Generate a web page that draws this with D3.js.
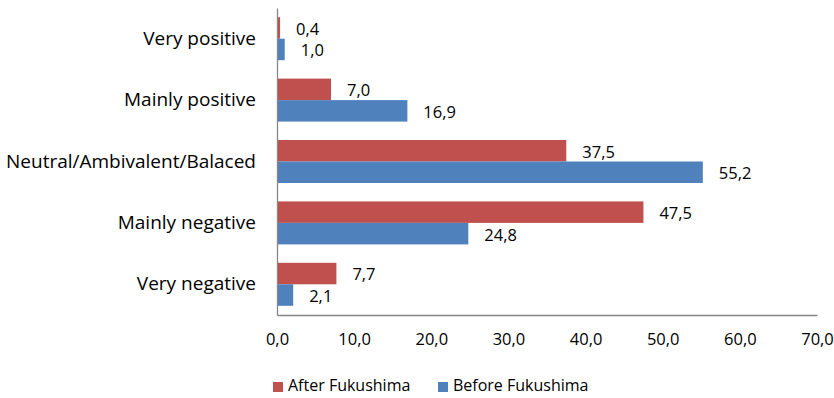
<!DOCTYPE html>
<html><head><meta charset="utf-8">
<script src="https://cdn.jsdelivr.net/npm/d3@7"></script>
<style>body{margin:0;background:#fff}svg{display:block}text{font-family:"Open Sans",sans-serif;fill:#000}</style>
</head><body><svg id="c" width="834" height="398"></svg>
<script>
const categories = ["Very positive","Mainly positive","Neutral/Ambivalent/Balaced","Mainly negative","Very negative"];
const seriesNames = ["After Fukushima","Before Fukushima"];
const afterValues = [0.4, 7.0, 37.5, 47.5, 7.7];
const beforeValues = [1.0, 16.9, 55.2, 24.8, 2.1];
const xTicks = [0,10,20,30,40,50,60,70];
const colors = ["#C0504D","#4F81BD"];

(function(){
const svg = d3.select("#c");
const pLeft = 277, pRight = 817, pTop = 8, pBottom = 315;
const fmt = v => v.toFixed(1).replace(".", ",");
const x = d3.scaleLinear().domain([0,70]).range([pLeft,pRight]);
const y = d3.scaleBand().domain(categories).range([pTop,pBottom]).paddingInner(0.3).paddingOuter(0.15);
const ySub = d3.scaleBand().domain(seriesNames).range([0,y.bandwidth()]);
const data = categories.map((c,i)=>({c, vals:[afterValues[i], beforeValues[i]]}));

const g = svg.append("g");
data.forEach(d=>{
  d.vals.forEach((v,j)=>{
    const yy = y(d.c)+ySub(seriesNames[j]);
    g.append("rect").attr("x",x(0)).attr("y",yy).attr("width",x(v)-x(0)).attr("height",ySub.bandwidth()).attr("fill",colors[j]);
    g.append("text").attr("x",x(v)+16).attr("y",yy+ySub.bandwidth()/2+2.5).attr("dominant-baseline","middle")
      .attr("font-size",16.5).text(fmt(v));
  });
});

const xa = svg.append("g").attr("transform",`translate(0,${pBottom})`).call(d3.axisBottom(x).tickValues(xTicks).tickSize(0).tickFormat(fmt));
xa.select(".domain").attr("stroke","#868686").attr("stroke-width",1.3);
xa.selectAll("text").attr("font-size",16.5).attr("dy",0).attr("y",26).attr("dominant-baseline","middle").style("font-family","'Open Sans',sans-serif");
const ya = svg.append("g").attr("transform",`translate(${pLeft},0)`).call(d3.axisLeft(y).tickSize(0).tickSizeOuter(0));
ya.select(".domain").attr("stroke","#868686").attr("stroke-width",1.3);
ya.selectAll("text").attr("font-size",19).attr("x",-21).attr("dy",0).attr("y",1).attr("dominant-baseline","middle").style("font-family","'Open Sans',sans-serif");

const lg = svg.append("g");
const lx = [273, 438];
seriesNames.forEach((s,j)=>{
  lg.append("rect").attr("x",lx[j]).attr("y",382).attr("width",10).attr("height",10).attr("fill",colors[j]);
  lg.append("text").attr("x",lx[j]+15).attr("y",387).attr("dominant-baseline","middle").attr("font-size",16).text(s);
});
})();
</script></body></html>
